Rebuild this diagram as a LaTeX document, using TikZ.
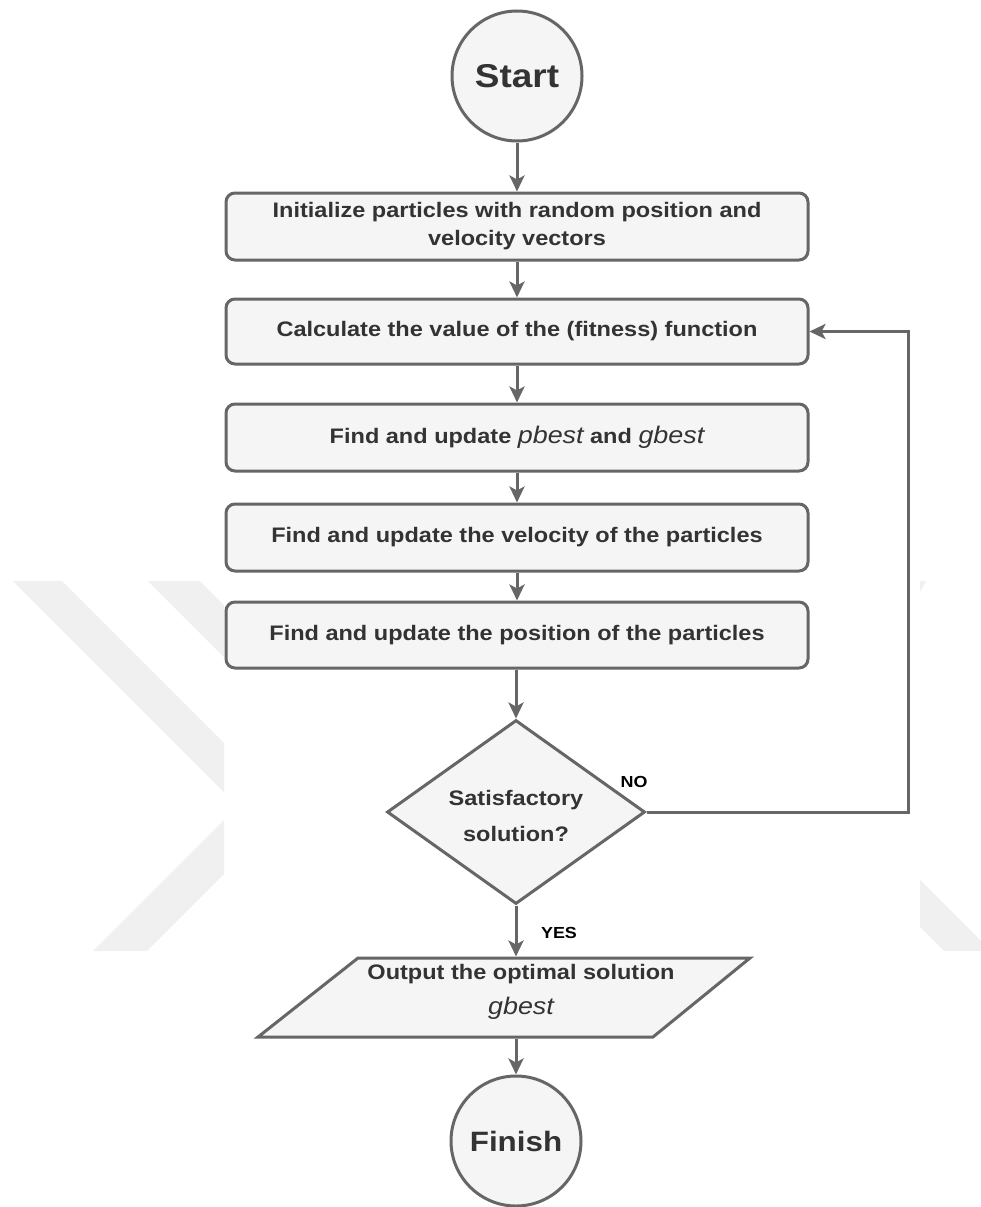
\documentclass[tikz,border=0pt]{standalone}
\usepackage{fontspec}
\setmainfont{Liberation Sans}[FakeStretch=1.12]
\usetikzlibrary{shapes.geometric,arrows.meta}
\definecolor{ln}{HTML}{666666}
\definecolor{fl}{HTML}{F5F5F5}
\definecolor{tx}{HTML}{333333}
\definecolor{wm}{HTML}{F0F0F0}
\newcommand\bxfont{\bfseries\fontsize{21}{28}\selectfont}
\newcommand\itword[1]{{\mdseries\itshape\fontsize{24}{28}\selectfont #1}}
\begin{document}
\begin{tikzpicture}[x=1pt,y=-1pt,
  box/.style={rectangle, draw=ln, fill=fl, line width=3pt, rounded corners=9pt,
    minimum width=582pt, minimum height=66pt, inner sep=0pt, text=tx, font=\bxfont, align=center},
  term/.style={circle, draw=ln, fill=fl, line width=3pt, minimum size=130pt, inner sep=0pt, text=tx},
  dia/.style={diamond, draw=ln, fill=fl, line width=3pt, minimum width=258pt, minimum height=184pt, inner sep=0pt, aspect=1.4},
  parashape/.style={draw=ln, fill=fl, line width=3pt, line join=miter},
  arr/.style={draw=ln, line width=3pt, -{Stealth[length=16pt,width=15pt,inset=4pt]}},
  lbl/.style={text=black, font=\bfseries\fontsize{16}{18}\selectfont, inner sep=0pt}
]
\useasboundingbox (0,0) rectangle (981,1207);
\fill[white] (0,0) rectangle (981,1207);
% watermark
\fill[wm] (13,581) -- (62,581) -- (224,743) -- (224,792) -- cycle;
\fill[wm] (148,581) -- (200,581) -- (224,605) -- (224,657) -- cycle;
\fill[wm] (224,820) -- (224,874) -- (147,951) -- (93,951) -- cycle;
\fill[wm] (920,880) -- (981,941) -- (981,951) -- (944,951) -- (920,927) -- cycle;
\fill[wm] (920,581) -- (926,581) -- (920,592) -- cycle;

\node[term, font=\bfseries\fontsize{33}{40}\selectfont] (start) at (517,76) {Start};
\node[box, minimum height=67pt] (b1) at (517,226.5) {Initialize particles with random position and\\velocity vectors};
\node[box, minimum height=65pt] (b2) at (517,331.5) {Calculate the value of the (fitness) function};
\node[box, minimum height=67pt] (b3) at (517,437.5) {Find and update \itword{pbest} and \itword{gbest}};
\node[box, minimum height=67pt] (b4) at (517,537.5) {Find and update the velocity of the particles};
\node[box, minimum height=66pt] (b5) at (517,635) {Find and update the position of the particles};
\node[dia] (d) at (516,812) {};
\node[text=tx, font=\bfseries\fontsize{21}{36}\selectfont, align=center, inner sep=0pt] (dt) at (516,816) {Satisfactory\\solution?};
\draw[parashape] (258,1037) -- (358,958) -- (750,958) -- (653,1037) -- cycle;
\node[rectangle, minimum width=392pt, minimum height=79pt, inner sep=0pt, outer sep=1.5pt] (p) at (504,997.5) {};
\node[text=tx, font=\bfseries\fontsize{21}{35}\selectfont, align=center, inner sep=0pt] (pt) at (521,992) {Output the optimal solution\\\itword{gbest}};
\node[term, font=\bfseries\fontsize{28}{34}\selectfont] (fin) at (516,1141) {Finish};
\coordinate (loopx) at (908,0);

\draw[arr] (start.south) -- (b1.north);
\draw[arr] (b1.south) -- (b2.north);
\draw[arr] (b2.south) -- (b3.north);
\draw[arr] (b3.south) -- (b4.north);
\draw[arr] (b4.south) -- (b5.north);
\draw[arr] (d.north |- b5.south) -- (d.north);
\draw[arr] (d.south) -- (d.south |- p.north);
\draw[arr] (fin.north |- p.south) -- (fin.north);
\draw[arr] (d.east) -- (d.east -| loopx) |- (b2.east);

\node[lbl] (no) at (634,782) {NO};
\node[lbl] (yes) at (559,933) {YES};
\end{tikzpicture}
\end{document}
